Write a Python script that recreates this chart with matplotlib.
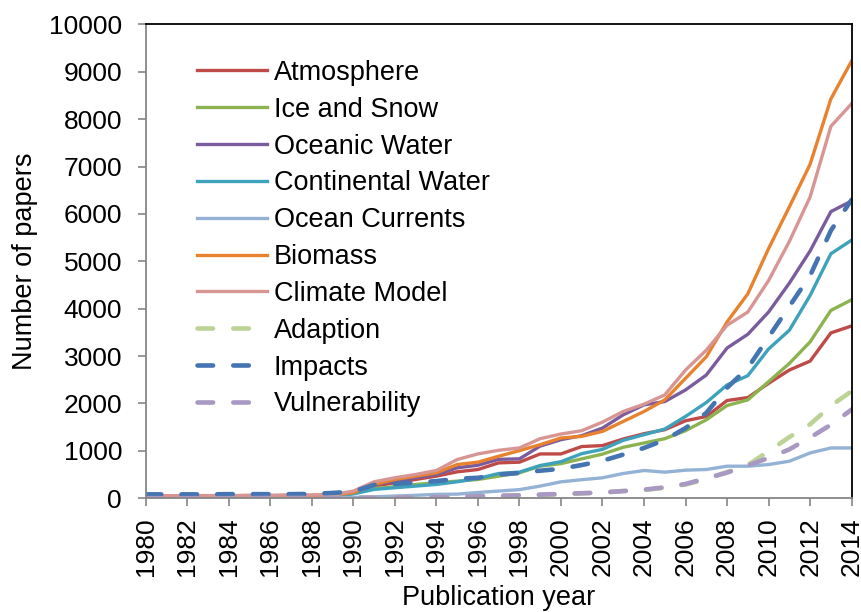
import numpy as np
import matplotlib
matplotlib.use("Agg")
import matplotlib.pyplot as plt

plt.rcParams['font.family'] = ['Liberation Sans', 'DejaVu Sans']

years = list(range(1980, 2015))

atmosphere = [40, 40, 45, 45, 45, 50, 50, 50, 55, 60,
              130, 255, 325, 395, 465, 556, 605, 745, 760, 934,
              934, 1090, 1110, 1249, 1361, 1445, 1634, 1725, 2061, 2124,
              2425, 2705, 2894, 3489, 3636]
ice_snow = [20, 20, 25, 25, 30, 30, 30, 35, 35, 40,
            100, 205, 240, 290, 325, 360, 395, 465, 535, 676,
            730, 830, 930, 1074, 1165, 1256, 1424, 1655, 1956, 2075,
            2460, 2845, 3300, 3964, 4188]
oceanic_water = [40, 40, 40, 45, 45, 45, 50, 50, 50, 55,
                 120, 290, 360, 430, 500, 640, 696, 820, 830, 1100,
                 1235, 1320, 1480, 1760, 1970, 2040, 2285, 2600, 3170, 3460,
                 3930, 4540, 5220, 6050, 6275]
continental_water = [20, 20, 25, 25, 25, 30, 30, 30, 35, 40,
                     90, 185, 220, 255, 290, 346, 416, 520, 550, 690,
                     770, 940, 1030, 1221, 1340, 1459, 1725, 2019, 2390, 2586,
                     3150, 3545, 4280, 5160, 5448]
ocean_currents = [5, 5, 5, 5, 8, 8, 10, 10, 10, 12,
                  15, 30, 45, 60, 80, 85, 120, 150, 180, 255,
                  345, 390, 430, 521, 584, 549, 591, 605, 675, 675,
                  710, 780, 955, 1060, 1060]
biomass = [45, 45, 50, 50, 50, 55, 55, 60, 60, 65,
           115, 290, 395, 465, 535, 710, 760, 885, 1004, 1130,
           1270, 1305, 1410, 1620, 1830, 2075, 2530, 2985, 3720, 4315,
           5270, 6150, 7050, 8430, 9230]
climate_model = [50, 50, 55, 55, 55, 60, 60, 65, 65, 70,
                 150, 346, 430, 500, 584, 815, 934, 1011, 1060, 1256,
                 1354, 1424, 1606, 1830, 1984, 2180, 2705, 3125, 3650, 3930,
                 4595, 5420, 6360, 7850, 8330]
adaption = [0, 0, 0, 0, 0, 0, 5, 5, 5, 5,
            10, 10, 15, 15, 20, 30, 40, 50, 60, 70,
            80, 100, 120, 150, 170, 220, 290, 400, 550, 700,
            990, 1290, 1560, 1950, 2260]
impacts = [80, 80, 80, 80, 85, 85, 85, 85, 90, 110,
           140, 280, 300, 330, 360, 410, 430, 500, 530, 580,
           620, 700, 790, 920, 1060, 1230, 1480, 1800, 2330, 2750,
           3400, 4050, 4700, 5650, 6300]
vulnerability = [0, 0, 0, 0, 0, 0, 5, 5, 5, 5,
                 10, 10, 15, 15, 20, 30, 40, 50, 60, 75,
                 90, 105, 120, 150, 180, 230, 300, 420, 540, 690,
                 850, 1030, 1280, 1550, 1870]

solid = [
    ("Atmosphere", atmosphere, "#BE4B48"),
    ("Ice and Snow", ice_snow, "#8DB350"),
    ("Oceanic Water", oceanic_water, "#7A5C9E"),
    ("Continental Water", continental_water, "#3EA2BC"),
    ("Ocean Currents", ocean_currents, "#94B2D6"),
    ("Biomass", biomass, "#E8822E"),
    ("Climate Model", climate_model, "#D79593"),
]
dashed = [
    ("Adaption", adaption, "#BDD396"),
    ("Impacts", impacts, "#4474B2"),
    ("Vulnerability", vulnerability, "#A898C2"),
]

fig = plt.figure(figsize=(8.62, 6.12), dpi=100)
ax = fig.add_axes([0.169, 0.186, 0.819, 0.774])

for name, vals, col in solid:
    ax.plot(years, vals, color=col, lw=2.4, label=name, solid_joinstyle='round')
for name, vals, col in dashed:
    ax.plot(years, vals, color=col, lw=3.3, label=name, linestyle=(0, (3.4, 4.4)),
            dash_capstyle='round')

ax.set_xlim(1980, 2014)
ax.set_ylim(0, 10000)
ax.set_xticks(range(1980, 2015, 2))
ax.set_xticklabels([str(y) for y in range(1980, 2015, 2)], rotation=90)
ax.set_yticks(range(0, 10001, 1000))

for s in ("left", "bottom"):
    ax.spines[s].set_color("#868686")
    ax.spines[s].set_linewidth(1.3)
for s in ("top", "right"):
    ax.spines[s].set_color("black")
    ax.spines[s].set_linewidth(1.3)
ax.tick_params(axis="both", direction="out", length=6, width=1.2, color="#868686",
               labelsize=19)
ax.tick_params(axis="x", pad=8)
ax.tick_params(axis="y", pad=11)

ax.set_xlabel("Publication year", fontsize=19.5, labelpad=6)
ax.set_ylabel("Number of papers", fontsize=19.5, labelpad=8)

ax.legend(loc="upper left", bbox_to_anchor=(0.057, 0.948), frameon=False,
          fontsize=19.5, handlelength=2.6, handletextpad=0.25, labelspacing=0.40,
          borderaxespad=0)

fig.savefig("out.png", dpi=100)
